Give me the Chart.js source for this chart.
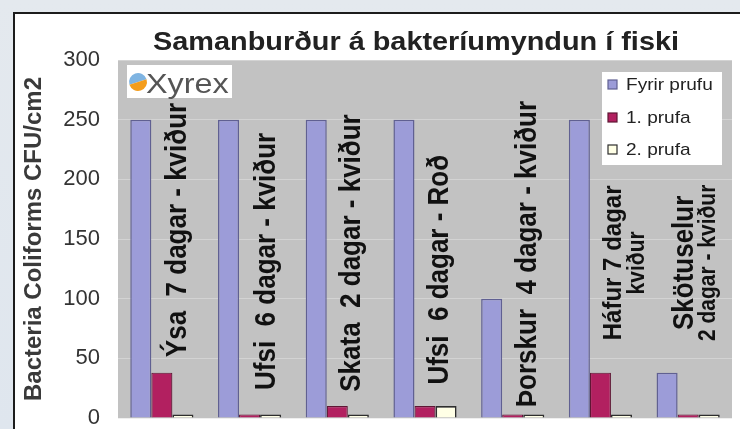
<!DOCTYPE html>
<html>
<head>
<meta charset="utf-8">
<script src="https://cdn.jsdelivr.net/npm/chart.js@4.4.1/dist/chart.umd.min.js"></script>
<style>
  html, body { margin: 0; padding: 0; background: #e2e7ed; }
  #wrap { width: 740px; height: 429px; }
</style>
</head>
<body>
<div id="wrap"><canvas id="chart" width="740" height="429"></canvas></div>
<script>
const chartTitle = 'Samanburður á bakteríumyndun í fiski';
const yTitle = 'Bacteria Coliforms CFU/cm2';
const categories = [
    ['Ýsa  7 dagar - kviður'],
    ['Ufsi  6 dagar - kviður'],
    ['Skata  2 dagar - kviður'],
    ['Ufsi  6 dagar - Roð'],
    ['Þorskur  4 dagar - kviður'],
    ['Háfur 7 dagar', 'kviður'],
    ['Skötuselur', '2 dagar - kviður']
];
const seriesNames = ['Fyrir prufu', '1. prufa', '2. prufa'];
const fyrirPrufu = [250, 250, 250, 250, 100, 250, 38];
const prufa1 = [38, 3, 10, 10, 3, 38, 3];
const prufa2 = [3, 3, 3, 10, 3, 3, 3];
const yMin = 0, yMax = 300, yStep = 50;

Chart.defaults.font.family = '"Liberation Sans", Arial, sans-serif';

// where each in-plot label sits: offset from the category centre, value it starts at
const labelLayout = [
    { dx: [16], at: 51, align: 'left', size: [26] },
    { dx: [18], at: 23.5, align: 'left', size: [26] },
    { dx: [15], at: 22, align: 'left', size: [26] },
    { dx: [15], at: 28, align: 'left', size: [26] },
    { dx: [15], at: 9, align: 'left', size: [26] },
    { dx: [13, 37], at: 130, align: 'center', size: [24, 21] },
    { dx: [-3, 20], at: 130, align: 'center', size: [26, 21] }
];

function drawText(ctx, text, x, y, sx, rotated, align) {
    ctx.save();
    ctx.translate(x, y);
    ctx.scale(sx, 1);
    if (rotated) ctx.rotate(-Math.PI / 2);
    ctx.textAlign = align;
    ctx.fillText(text, 0, 0);
    ctx.restore();
}

const overlay = {
    id: 'overlay',
    beforeDraw(chart) {
        const { ctx, chartArea: a } = chart;
        ctx.save();
        const g = ctx.createLinearGradient(0, 0, 0, 429);
        g.addColorStop(0, '#e4e9ee');
        g.addColorStop(1, '#dfe6ee');
        ctx.fillStyle = g;
        ctx.fillRect(0, 0, 740, 429);
        ctx.fillStyle = '#ffffff';
        ctx.fillRect(13, 12, 727, 417);
        ctx.strokeStyle = '#1c1c1c';
        ctx.lineWidth = 2;
        ctx.beginPath();
        ctx.moveTo(14, 429);
        ctx.lineTo(14, 13);
        ctx.lineTo(740, 13);
        ctx.stroke();
        ctx.fillStyle = '#c2c2c2';
        ctx.fillRect(a.left, a.top, a.right - a.left, a.bottom - a.top);
        ctx.restore();
    },
    afterDatasetsDraw(chart) {
        const { ctx, scales } = chart;
        const x = scales.x, y = scales.y;
        ctx.save();
        ctx.fillStyle = '#111';
        ctx.textBaseline = 'middle';

        // labels written inside the plot
        categories.forEach((lines, i) => {
            const l = labelLayout[i];
            const cx = x.getPixelForValue(i);
            const py = y.getPixelForValue(l.at);
            lines.forEach((txt, k) => {
                ctx.font = 'bold ' + l.size[k] + 'px "Liberation Sans", Arial, sans-serif';
                drawText(ctx, txt, cx + l.dx[k], py, 1.1, true, l.align);
            });
        });

        // title
        ctx.fillStyle = '#222';
        ctx.textBaseline = 'alphabetic';
        ctx.font = 'bold 26px "Liberation Sans", Arial, sans-serif';
        drawText(ctx, chartTitle, 416, 50, 1.11, false, 'center');

        // y axis title
        ctx.fillStyle = '#3a3a3a';
        ctx.textBaseline = 'middle';
        ctx.font = 'bold 24px "Liberation Sans", Arial, sans-serif';
        drawText(ctx, yTitle, 34, 239, 1, true, 'center');

        // legend
        ctx.fillStyle = '#ffffff';
        ctx.fillRect(602, 72, 120, 93);
        const rows = [85, 118, 150];
        chart.data.datasets.forEach((ds, i) => {
            ctx.fillStyle = ds.backgroundColor;
            ctx.fillRect(608, rows[i] - 5, 9, 9);
            ctx.strokeStyle = ds.borderColor;
            ctx.lineWidth = 1.2;
            ctx.strokeRect(608, rows[i] - 5, 9, 9);
            ctx.fillStyle = '#222';
            ctx.font = '17px "Liberation Sans", Arial, sans-serif';
            drawText(ctx, ds.label, 626, rows[i], 1.12, false, 'left');
        });

        // logo
        ctx.fillStyle = '#ffffff';
        ctx.fillRect(127, 65, 105, 33);
        ctx.beginPath();
        ctx.moveTo(138, 82);
        ctx.arc(138, 82, 9, Math.PI * 0.9, Math.PI * 1.9);
        ctx.closePath();
        ctx.fillStyle = '#7fb4e2';
        ctx.fill();
        ctx.beginPath();
        ctx.moveTo(138, 82);
        ctx.arc(138, 82, 9, Math.PI * 1.9, Math.PI * 2.9);
        ctx.closePath();
        ctx.fillStyle = '#f49d1c';
        ctx.fill();
        ctx.fillStyle = '#555';
        ctx.textBaseline = 'alphabetic';
        ctx.font = '27px "Liberation Sans", Arial, sans-serif';
        drawText(ctx, 'Xyrex', 146, 93, 1.2, false, 'left');
        ctx.restore();
    }
};

new Chart(document.getElementById('chart'), {
    type: 'bar',
    data: {
        labels: categories,
        datasets: [{
            label: seriesNames[0],
            data: fyrirPrufu,
            backgroundColor: 'rgb(156,156,216)',
            borderColor: 'rgb(96,96,146)',
            borderWidth: 1.5
        }, {
            label: seriesNames[1],
            data: prufa1,
            backgroundColor: 'rgb(178,32,96)',
            borderColor: 'rgb(95,22,52)',
            borderWidth: 1.2
        }, {
            label: seriesNames[2],
            data: prufa2,
            backgroundColor: '#ffffe6',
            borderColor: '#2e2e2e',
            borderWidth: 1.6
        }]
    },
    options: {
        responsive: false,
        animation: false,
        layout: { padding: { top: 60, right: 8, bottom: 11, left: 0 } },
        datasets: { bar: { categoryPercentage: 0.72, barPercentage: 1.0 } },
        plugins: {
            legend: { display: false },
            title: { display: false },
            tooltip: { enabled: false }
        },
        scales: {
            x: { display: false },
            y: {
                min: yMin,
                max: yMax,
                afterFit(scale) {
                    scale.width = 118;
                    // labels may hang past the ends, the plot keeps its own height
                    scale.paddingTop = 0;
                    scale.paddingBottom = 0;
                    scale._margins.top = 0;
                    scale._margins.bottom = 0;
                },
                ticks: {
                    stepSize: yStep,
                    padding: 18,
                    color: '#333',
                    font: { size: 22 }
                },
                grid: { color: 'rgba(225,225,225,0.55)', drawTicks: false },
                border: { display: false }
            }
        }
    },
    plugins: [overlay]
});
</script>
</body>
</html>
